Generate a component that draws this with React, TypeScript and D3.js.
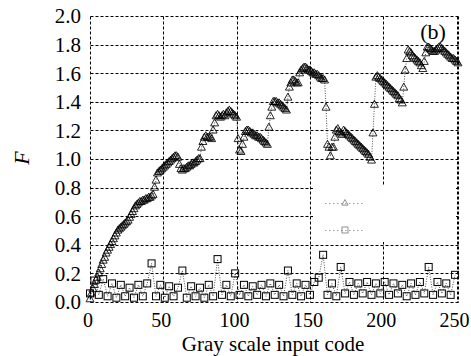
import React from "react";
import * as d3 from "d3";

const W = 471;
const H = 356;

// F values of the triangle series, one per gray code 0..251
const triangleF: number[] = [
  0.02, 0.06, 0.09, 0.12, 0.15, 0.17, 0.2, 0.23, 0.26, 0.29,
  0.31, 0.34, 0.36, 0.38, 0.4, 0.42, 0.44, 0.46, 0.48, 0.5,
  0.51, 0.52, 0.53, 0.54, 0.55, 0.56, 0.57, 0.59, 0.61, 0.63,
  0.65, 0.67, 0.68, 0.69, 0.7, 0.7, 0.71, 0.71, 0.72, 0.72,
  0.73, 0.73, 0.74, 0.75, 0.8, 0.85, 0.9, 0.91, 0.92, 0.93,
  0.94, 0.95, 0.96, 0.97, 0.98, 0.99, 1.0, 1.01, 1.02, 1.02,
  1.01, 0.96, 0.93, 0.92, 0.93, 0.93, 0.94, 0.95, 0.95, 0.96,
  0.97, 0.97, 0.98, 0.99, 1.0, 1.0, 1.08, 1.12, 1.15, 1.16,
  1.15, 1.15, 1.15, 1.14, 1.2, 1.25, 1.3, 1.31, 1.3, 1.29,
  1.3, 1.31, 1.3, 1.32, 1.33, 1.34, 1.33, 1.32, 1.31, 1.3,
  1.29, 1.14, 1.06, 1.05, 1.1, 1.15, 1.19, 1.2, 1.2, 1.19,
  1.18, 1.18, 1.17, 1.16, 1.16, 1.15, 1.15, 1.14, 1.13, 1.12,
  1.11, 1.1, 1.22, 1.3, 1.36, 1.4, 1.4, 1.4, 1.39, 1.39,
  1.38, 1.37, 1.36, 1.35, 1.34, 1.43, 1.5, 1.53, 1.55, 1.55,
  1.54, 1.53, 1.53, 1.6, 1.62, 1.63, 1.64, 1.64, 1.63, 1.62,
  1.62, 1.61, 1.6, 1.6, 1.59, 1.59, 1.58, 1.57, 1.56, 1.56,
  1.55, 1.36, 1.1, 1.08, 1.02, 1.08, 1.08, 1.15, 1.2, 1.21,
  1.19, 1.18, 1.17, 1.2, 1.19, 1.18, 1.17, 1.16, 1.15, 1.14,
  1.13, 1.12, 1.11, 1.1, 1.09, 1.08, 1.07, 1.06, 1.05, 1.04,
  1.03, 1.01, 0.99, 1.18, 1.38, 1.57, 1.58, 1.57, 1.56, 1.55,
  1.54, 1.53, 1.52, 1.51, 1.5, 1.49, 1.48, 1.47, 1.46, 1.45,
  1.44, 1.42, 1.41, 1.39, 1.5, 1.62, 1.7, 1.76, 1.75, 1.74,
  1.72, 1.71, 1.7, 1.69, 1.68, 1.67, 1.65, 1.63, 1.68, 1.74,
  1.78, 1.78, 1.77, 1.76, 1.75, 1.75, 1.76, 1.77, 1.78, 1.78,
  1.77, 1.76, 1.75, 1.74, 1.73, 1.72, 1.71, 1.7, 1.7, 1.69,
  1.68, 1.67,
];

// square series: gray codes 0,3,...,249
const squareF: number[] = [
  0.06, 0.15, 0.05, 0.16, 0.04, 0.13, 0.03, 0.12, 0.04, 0.1,
  0.03, 0.12, 0.04, 0.13, 0.27, 0.04, 0.12, 0.03, 0.11, 0.04,
  0.1, 0.22, 0.03, 0.11, 0.04, 0.1, 0.03, 0.12, 0.04, 0.3,
  0.05, 0.12, 0.04, 0.2, 0.05, 0.12, 0.04, 0.11, 0.05, 0.12,
  0.04, 0.13, 0.05, 0.12, 0.04, 0.22, 0.05, 0.13, 0.04, 0.12,
  0.05, 0.14, 0.17, 0.33, 0.05, 0.13, 0.04, 0.245, 0.06, 0.14,
  0.05, 0.13, 0.06, 0.14, 0.05, 0.13, 0.06, 0.14, 0.05, 0.13,
  0.06, 0.12, 0.04, 0.13, 0.05, 0.14, 0.06, 0.245, 0.05, 0.14,
  0.06, 0.13, 0.05, 0.19,
];

const xTicks = [0, 50, 100, 150, 200, 250];
const yTicks = [0, 0.2, 0.4, 0.6, 0.8, 1.0, 1.2, 1.4, 1.6, 1.8, 2.0];

const FONT = "'Liberation Serif', 'DejaVu Serif', serif";

export default function App() {
  const left = 90, right = 458, top = 16, bottom = 302;
  const x = d3.scaleLinear().domain([0, 251]).range([left, right]);
  const y = d3.scaleLinear().domain([0, 2]).range([bottom, top]);
  const c = (v: number) => Math.round(v) + 0.5;

  const triPts = triangleF.map((v, i) => [x(i), y(v)] as [number, number]);
  const sqPts = squareF.map((v, i) => [x(i * 3), y(v)] as [number, number]);
  const line = d3.line();

  const tri = (cx: number, cy: number, s = 4.4) =>
    `M${cx},${cy - s}L${cx + s * 0.9},${cy + s * 0.6}L${cx - s * 0.9},${cy + s * 0.6}Z`;

  const dash = "3,2";

  return (
    <svg width={W} height={H} style={{ position: "absolute", left: 0, top: 0, background: "#fff" }}>
      <rect x={0} y={0} width={W} height={H} fill="#fff" />
      {/* grid */}
      {yTicks.map((t) => (
        <line key={"gy" + t} x1={c(left)} x2={c(right)} y1={c(y(t))} y2={c(y(t))} stroke="#000" strokeWidth={1} strokeDasharray={dash} />
      ))}
      {xTicks.map((t) => (
        <line key={"gx" + t} x1={c(x(t))} x2={c(x(t))} y1={c(top)} y2={c(bottom)} stroke="#000" strokeWidth={1} strokeDasharray={dash} />
      ))}
      <line x1={c(right)} x2={c(right)} y1={c(top)} y2={c(bottom)} stroke="#000" strokeWidth={1} strokeDasharray={dash} />
      {/* legend box (text absent in reference) */}
      <rect x={313} y={185} width={143} height={57} fill="#fff" />
      <line x1={325} x2={365} y1={203.5} y2={203.5} stroke="#888" strokeWidth={0.8} strokeDasharray="1.5,2.5" />
      <path d={tri(345, 203, 3.5)} fill="none" stroke="#777" strokeWidth={0.8} />
      <line x1={325} x2={365} y1={230.5} y2={230.5} stroke="#888" strokeWidth={0.8} strokeDasharray="1.5,2.5" />
      <rect x={342} y={227} width={6} height={6} fill="none" stroke="#777" strokeWidth={0.8} />

      {/* series */}
      <path d={line(sqPts) || ""} fill="none" stroke="#000" strokeWidth={0.7} strokeDasharray="1,1.5" />
      {sqPts.map(([px, py], i) => (
        <rect key={"s" + i} x={px - 3.5} y={py - 3.5} width={7} height={7} fill="none" stroke="#000" strokeWidth={1} />
      ))}
      <path d={line(triPts) || ""} fill="none" stroke="#000" strokeWidth={0.7} strokeDasharray="1,1.5" />
      {triPts.map(([px, py], i) => (
        <path key={"t" + i} d={tri(px, py)} fill="none" stroke="#000" strokeWidth={0.85} />
      ))}

      {/* axes labels */}
      {yTicks.map((t) => (
        <text key={"ly" + t} x={81} y={y(t)} dy="0.35em" textAnchor="end" fontFamily={FONT} fontSize={21}>
          {t.toFixed(1)}
        </text>
      ))}
      {xTicks.map((t) => (
        <text key={"lx" + t} x={x(t) - 2} y={320} dy="0.35em" textAnchor="middle" fontFamily={FONT} fontSize={20}>
          {t}
        </text>
      ))}
      <text x={273} y={351} textAnchor="middle" fontFamily={FONT} fontSize={21}>
        Gray scale input code
      </text>
      <text transform="translate(29,158) rotate(-90)" textAnchor="middle" fontFamily={FONT} fontSize={22} fontStyle="italic">
        F
      </text>
      <text x={433} y={39} textAnchor="middle" fontFamily={FONT} fontSize={22}>
        (b)
      </text>
    </svg>
  );
}
